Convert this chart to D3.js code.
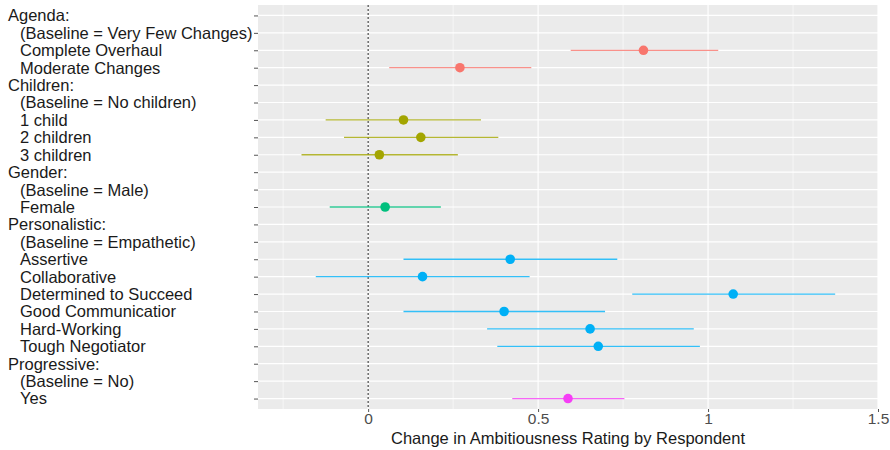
<!DOCTYPE html>
<html>
<head>
<meta charset="utf-8">
<script src="https://cdn.jsdelivr.net/npm/d3@7"></script>
<style>
  body { margin: 0; background: #fff; }
  svg text { font-family: "Liberation Sans", Arial, sans-serif; }
</style>
</head>
<body>
<div id="chartDiv"></div>
<script>
'use strict';

// row labels, top to bottom (two leading spaces = indented level)
const labels = [
    'Agenda:', '  (Baseline = Very Few Changes)', '  Complete Overhaul', '  Moderate Changes',
    'Children:', '  (Baseline = No children)', '  1 child', '  2 children', '  3 children',
    'Gender:', '  (Baseline = Male)', '  Female',
    'Personalistic:', '  (Baseline = Empathetic)', '  Assertive', '  Collaborative',
    '  Determined to Succeed', '  Good Communicatior', '  Hard-Working', '  Tough Negotiator',
    'Progressive:', '  (Baseline = No)', '  Yes'
];
const groups = ['Agenda', 'Children', 'Gender', 'Personalistic', 'Progressive'];

// estimates (null = no estimate on that row)
const rowGroup = [null, null, 'Agenda', 'Agenda', null, null, 'Children', 'Children', 'Children',
    null, null, 'Gender', null, null, 'Personalistic', 'Personalistic', 'Personalistic',
    'Personalistic', 'Personalistic', 'Personalistic', null, null, 'Progressive'];
const estimate = [null, null, 0.81, 0.27, null, null, 0.104, 0.155, 0.033, null, null, 0.05,
    null, null, 0.418, 0.16, 1.074, 0.40, 0.653, 0.677, null, null, 0.588];
const lower = [null, null, 0.596, 0.062, null, null, -0.125, -0.071, -0.196, null, null, -0.113,
    null, null, 0.104, -0.154, 0.777, 0.104, 0.35, 0.38, null, null, 0.424];
const upper = [null, null, 1.03, 0.48, null, null, 0.332, 0.383, 0.264, null, null, 0.214,
    null, null, 0.733, 0.475, 1.374, 0.697, 0.958, 0.976, null, null, 0.754];

const xMajor = [0, 0.5, 1, 1.5];
const xMinor = [-0.25, 0.25, 0.75, 1.25];
const xDomain = [-0.324, 1.5];
const xTitle = 'Change in Ambitiousness Rating by Respondent';

const W = 890, H = 450;
const margin = { top: 5, right: 12, bottom: 41, left: 258 };
const width = W - margin.left - margin.right;
const height = H - margin.top - margin.bottom;

const color = d3.scaleOrdinal()
    .domain(groups)
    .range(['#F8766D', '#A3A500', '#00BF7D', '#00B0F6', '#F53EF5']);

const xScale = d3.scaleLinear().domain(xDomain).range([0, width]);
const yScale = d3.scalePoint().domain(d3.range(labels.length)).range([0, height]).padding(0.6);

const svg = d3.select('#chartDiv').append('svg')
    .attr('width', W)
    .attr('height', H);

const g = svg.append('g')
    .attr('transform', `translate(${margin.left},${margin.top})`);

// panel
g.append('rect')
    .attr('width', width)
    .attr('height', height)
    .attr('fill', '#EBEBEB');

g.selectAll('line.minor')
    .data(xMinor)
    .enter().append('line')
    .attr('class', 'minor')
    .attr('x1', d => xScale(d)).attr('x2', d => xScale(d))
    .attr('y1', 0).attr('y2', height)
    .attr('stroke', '#fff').attr('stroke-width', 0.6);

g.selectAll('line.major')
    .data(xMajor)
    .enter().append('line')
    .attr('class', 'major')
    .attr('x1', d => xScale(d)).attr('x2', d => xScale(d))
    .attr('y1', 0).attr('y2', height)
    .attr('stroke', '#fff').attr('stroke-width', 1.2);

g.selectAll('line.hgrid')
    .data(d3.range(labels.length))
    .enter().append('line')
    .attr('class', 'hgrid')
    .attr('x1', 0).attr('x2', width)
    .attr('y1', d => yScale(d)).attr('y2', d => yScale(d))
    .attr('stroke', '#fff').attr('stroke-width', 1.2);

// reference line at zero
g.append('line')
    .attr('x1', xScale(0)).attr('x2', xScale(0))
    .attr('y1', 0).attr('y2', height)
    .attr('stroke', '#222').attr('stroke-width', 1)
    .attr('stroke-dasharray', '2,2');

const rows = d3.range(labels.length).filter(i => estimate[i] !== null);

g.selectAll('line.ci')
    .data(rows)
    .enter().append('line')
    .attr('class', 'ci')
    .attr('x1', i => xScale(lower[i])).attr('x2', i => xScale(upper[i]))
    .attr('y1', i => yScale(i)).attr('y2', i => yScale(i))
    .attr('stroke', i => color(rowGroup[i]))
    .attr('stroke-opacity', 0.8)
    .attr('stroke-width', 1.3);

g.selectAll('circle.pt')
    .data(rows)
    .enter().append('circle')
    .attr('class', 'pt')
    .attr('cx', i => xScale(estimate[i]))
    .attr('cy', i => yScale(i))
    .attr('r', 4.8)
    .attr('fill', i => color(rowGroup[i]));

// y axis: ticks + left aligned labels
const yAxis = g.append('g')
    .call(d3.axisLeft(yScale).tickSize(4).tickFormat(''));
yAxis.select('.domain').remove();
yAxis.selectAll('line').attr('stroke', '#555');

svg.append('g')
    .selectAll('text')
    .data(d3.range(labels.length))
    .enter().append('text')
    .attr('x', i => labels[i].startsWith('  ') ? 20 : 8)
    .attr('y', i => margin.top + yScale(i))
    .attr('dy', '0.36em')
    .attr('font-size', 16.5)
    .attr('fill', '#1a1a1a')
    .text(i => labels[i].trim());

// x axis
const xAxis = g.append('g')
    .attr('transform', `translate(0,${height})`)
    .call(d3.axisBottom(xScale).tickValues(xMajor).tickSize(3).tickFormat(d3.format('')));
xAxis.select('.domain').remove();
xAxis.selectAll('line').attr('stroke', '#555');
xAxis.selectAll('text')
    .attr('font-size', 15.5)
    .attr('fill', '#4d4d4d')
    .attr('y', 3)
    .attr('dy', '0.75em')
    .style('font-family', '"Liberation Sans", Arial, sans-serif');

svg.append('text')
    .attr('x', margin.left + width / 2)
    .attr('y', 444)
    .attr('text-anchor', 'middle')
    .attr('font-size', 16.5)
    .attr('fill', '#1a1a1a')
    .text(xTitle);
</script>
</body>
</html>
